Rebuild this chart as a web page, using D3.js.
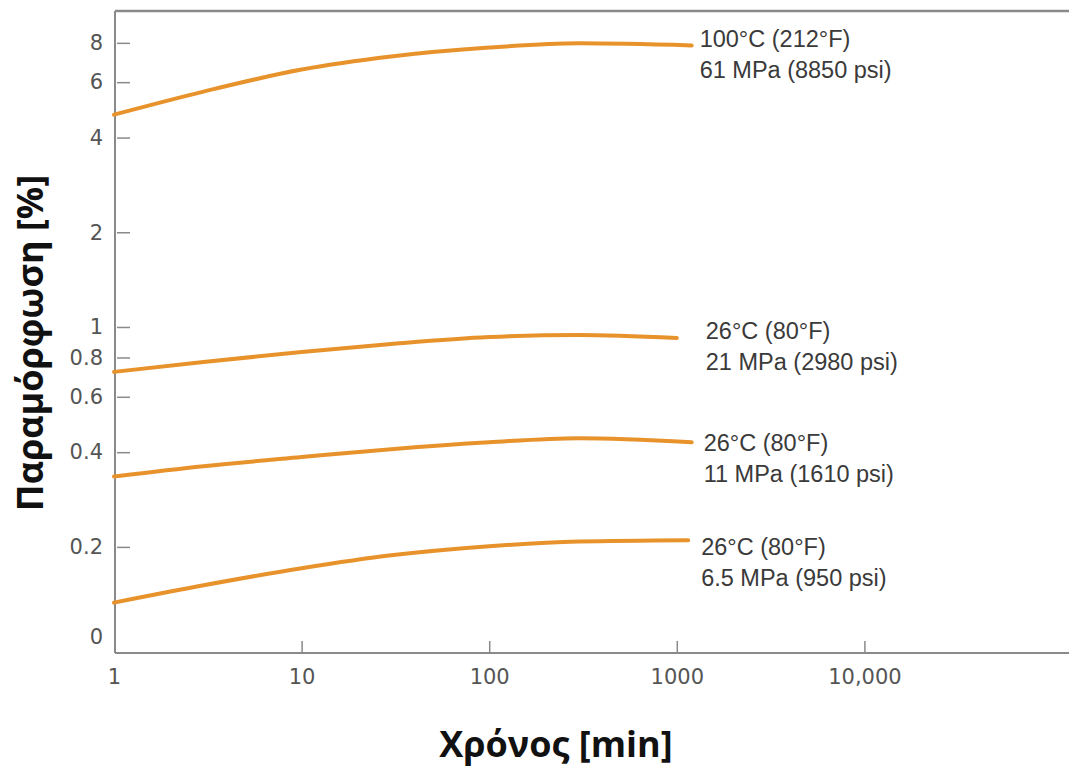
<!DOCTYPE html>
<html>
<head>
<meta charset="utf-8">
<script src="https://cdn.jsdelivr.net/npm/d3@7"></script>
<style>
  body { margin: 0; background: #fff; }
  svg { display: block; }
</style>
</head>
<body>
<div id="chart"></div>
<script>
// Data
const curveTimes = [1, 3, 10, 30, 100, 300];           // min
const endTimes = [1200, 1000, 1200, 1150];             // last point of each curve
const strain100C61 = [4.73, 5.6, 6.58, 7.24, 7.73, 7.97, 7.85];
const strain26C21 = [0.72, 0.774, 0.833, 0.883, 0.929, 0.943, 0.923];
const strain26C11 = [0.335, 0.361, 0.386, 0.409, 0.43, 0.443, 0.43];
const strain26C65 = [0.133, 0.151, 0.171, 0.188, 0.201, 0.208, 0.21];

const curveLabels = [
    ["100°C (212°F)", "61 MPa (8850 psi)"],
    ["26°C (80°F)", "21 MPa (2980 psi)"],
    ["26°C (80°F)", "11 MPa (1610 psi)"],
    ["26°C (80°F)", "6.5 MPa (950 psi)"]
];

const xTickValues = [1, 10, 100, 1000, 10000];
const xTickLabels = ["1", "10", "100", "1000", "10,000"];
const yTickValues = [0.1, 0.2, 0.4, 0.6, 0.8, 1, 2, 4, 6, 8];
const yTickLabels = ["0", "0.2", "0.4", "0.6", "0.8", "1", "2", "4", "6", "8"];

const xTitle = "Χρόνος [min]";
const yTitle = "Παραμόρφωση [%]";

// Label placement relative to the end of each curve (px)
const labelOffsets = [[8, 2], [29, 1], [12, 9], [13, 15]];

// Setting up the svg
const width = 1069;
const height = 767;
const plot = { left: 115, top: 11, right: 1069, bottom: 653 };

const svg = d3.select('#chart').append('svg')
    .attr('width', width)
    .attr('height', height);

const x = d3.scaleLog().domain([1, 1e5]).range([114, 1052]);
const y = d3.scaleLog().domain([0.092, 10.1]).range([plot.bottom, plot.top]);

const axisColor = '#8a8a8a';
const labelColor = '#555';
const curveColor = '#e8922c';

// Frame: left, bottom and top lines
svg.append('line')
    .attr('x1', plot.left).attr('x2', plot.left)
    .attr('y1', plot.top).attr('y2', plot.bottom)
    .attr('stroke', axisColor).attr('stroke-width', 2);
svg.append('line')
    .attr('x1', plot.left).attr('x2', plot.right)
    .attr('y1', plot.bottom).attr('y2', plot.bottom)
    .attr('stroke', axisColor).attr('stroke-width', 2);
svg.append('line')
    .attr('x1', plot.left).attr('x2', plot.right)
    .attr('y1', plot.top).attr('y2', plot.top)
    .attr('stroke', axisColor).attr('stroke-width', 2.5);

// X axis (ticks point up into the plot)
const xAxis = d3.axisTop(x)
    .tickValues(xTickValues)
    .tickSize(12)
    .tickFormat((d, i) => xTickLabels[i]);

const xg = svg.append('g')
    .attr('transform', 'translate(0,' + plot.bottom + ')')
    .call(xAxis);
xg.select('.domain').remove();
xg.selectAll('.tick line')
    .attr('stroke', axisColor).attr('stroke-width', 1.5)
    .filter(d => d === 1).remove();
xg.selectAll('.tick text')
    .attr('y', 16)
    .attr('dy', '0.71em')
    .attr('fill', labelColor)
    .style('font-family', '"DejaVu Sans", sans-serif')
    .style('font-size', '21px');

// Y axis (ticks point right into the plot)
const yAxis = d3.axisRight(y)
    .tickValues(yTickValues)
    .tickSize(15)
    .tickFormat((d, i) => yTickLabels[i]);

const yg = svg.append('g')
    .attr('transform', 'translate(' + plot.left + ',0)')
    .call(yAxis);
yg.select('.domain').remove();
yg.selectAll('.tick line')
    .attr('x1', 2)
    .attr('stroke', axisColor).attr('stroke-width', 1.5)
    .filter(d => d === 0.1).remove();
yg.selectAll('.tick text')
    .attr('x', -12)
    .attr('text-anchor', 'end')
    .attr('fill', labelColor)
    .style('font-family', '"DejaVu Sans", sans-serif')
    .style('font-size', '21px');
yg.selectAll('.tick')
    .filter(d => d === 0.1)
    .select('text').attr('dy', '0.1em');

// Curves
const allSeries = [strain100C61, strain26C21, strain26C11, strain26C65];
const line = d3.line()
    .x(d => x(d.t))
    .y(d => y(d.v))
    .curve(d3.curveMonotoneX);

allSeries.forEach((values, i) => {
    const times = curveTimes.concat([endTimes[i]]);
    const pts = values.map((v, j) => ({ t: times[j], v: v }));

    svg.append('path')
        .datum(pts)
        .attr('d', line)
        .attr('fill', 'none')
        .attr('stroke', curveColor)
        .attr('stroke-width', 4)
        .attr('stroke-linecap', 'round');

    // Label next to the end of each curve
    const last = pts[pts.length - 1];
    const lx = x(last.t) + labelOffsets[i][0];
    const ly = y(last.v) + labelOffsets[i][1];
    const label = svg.append('text')
        .attr('x', lx)
        .attr('y', ly)
        .attr('fill', '#3a3a3a')
        .style('font-family', '"Liberation Sans", Arial, sans-serif')
        .style('font-size', '23.5px');
    label.selectAll('tspan')
        .data(curveLabels[i])
        .enter().append('tspan')
        .attr('x', lx)
        .attr('dy', (d, k) => k === 0 ? 0 : 31)
        .text(d => d);
});

// Axis titles
svg.append('text')
    .attr('x', 556)
    .attr('y', 757)
    .attr('text-anchor', 'middle')
    .attr('fill', '#111')
    .style('font-family', '"Open Sans", sans-serif')
    .style('font-weight', 'bold')
    .style('font-size', '36px')
    .text(xTitle);

svg.append('text')
    .attr('transform', 'translate(43,343) rotate(-90)')
    .attr('text-anchor', 'middle')
    .attr('fill', '#111')
    .style('font-family', '"Open Sans", sans-serif')
    .style('font-weight', 'bold')
    .style('font-size', '36px')
    .text(yTitle);
</script>
</body>
</html>
